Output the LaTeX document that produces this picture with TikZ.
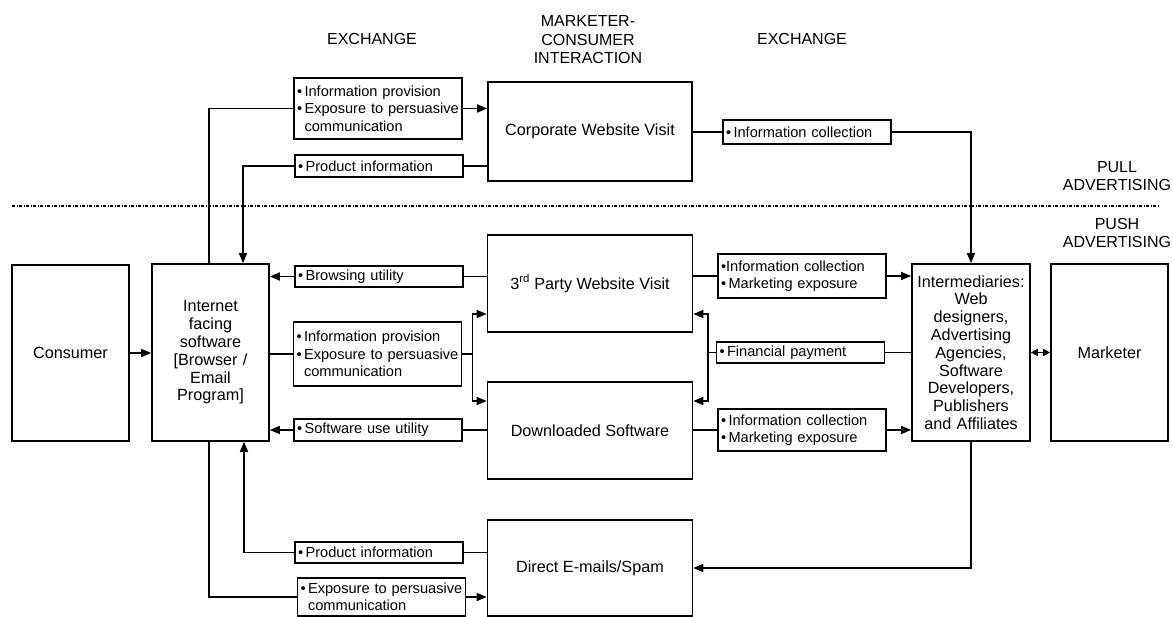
\documentclass[tikz,border=0pt]{standalone}
\usepackage{fontspec}
\setmainfont{Liberation Sans}
\usetikzlibrary{arrows.meta}
\newcommand{\bl}{\textbullet\,}
\newcommand{\blind}{\hphantom{\textbullet\,}}
\tikzset{
	unit/.style={draw, line width=1.7pt, align=center, inner sep=3pt, font=\fontsize{16.2}{17.8}\selectfont},
	xbox/.style={draw, line width=1.7pt, align=left, text width=162pt, inner xsep=3pt, inner ysep=1pt, font=\fontsize{14.6}{17.5}\selectfont},
	head/.style={align=center, font=\fontsize{16}{18.5}\selectfont},
	link/.style={line width=1.7pt},
	flow/.style={line width=1.7pt, -{Triangle[length=10pt,width=8pt]}},
	twoway/.style={line width=1.7pt, {Triangle[length=7pt,width=7pt]}-{Triangle[length=7pt,width=7pt]}},
	sep/.style={line width=1.1pt, dash pattern=on 3pt off 1.5pt on 1pt off 1.5pt}
}
\begin{document}
\begin{tikzpicture}[x=1pt, y=-1pt]
	\useasboundingbox (0,0) rectangle (1173,617);
	\node[head] (exl) at (372,39) {EXCHANGE};
	\node[head] (mci) at (588,40) {MARKETER-\\CONSUMER\\INTERACTION};
	\node[head] (exr) at (802,39) {EXCHANGE};
	\node[head] (pull) at (1117,176) {PULL\\ADVERTISING};
	\node[head] (push) at (1117,233) {PUSH\\ADVERTISING};
	\coordinate (sepw) at (12,206);
	\coordinate (sepe) at (1160,206);
	\draw[sep] (sepw) -- (sepe);

	\node[unit, minimum width=117pt, minimum height=176pt] (cons) at (70.5,353) {Consumer};
	\node[unit, text width=111pt, minimum height=177pt] (ifs) at (210.5,352.5) {Internet\\facing\\software\\{[}Browser /\\Email\\Program{]}};
	\node[unit, minimum width=204pt, minimum height=99pt] (corp) at (590,131.5) {Corporate Website Visit};
	\node[unit, minimum width=205pt, minimum height=97pt] (third) at (590,283.5) {3\textsuperscript{rd} Party Website Visit};
	\node[unit, minimum width=205pt, minimum height=97pt] (soft) at (590,430.5) {Downloaded Software};
	\node[unit, minimum width=205pt, minimum height=96pt] (mail) at (590,568) {Direct E-mails/Spam};
	\node[unit, text width=112pt, inner xsep=3pt, minimum height=177pt] (inter) at (971,352.5) {Intermediaries:\\Web\\designers,\\Advertising\\Agencies,\\Software\\Developers,\\Publishers\\and Affiliates};
	\node[unit, minimum width=117pt, minimum height=177pt] (mkt) at (1109.5,352.5) {Marketer};

	\node[xbox, minimum height=61pt] (provc) at (378,108.5) {\bl Information provision\\\bl Exposure to persuasive\\\blind communication};
	\node[xbox, minimum height=22pt] (prodc) at (379,166) {\bl Product information};
	\node[xbox, minimum height=21pt] (brow) at (379,276.5) {\bl Browsing utility};
	\node[xbox, minimum height=64pt] (provm) at (377.5,354) {\bl Information provision\\\bl Exposure to persuasive\\\blind communication};
	\node[xbox, minimum height=22pt] (use) at (378,430) {\bl Software use utility};
	\node[xbox, minimum height=21pt] (prodd) at (379,552.5) {\bl Product information};
	\node[xbox, minimum height=38pt] (expd) at (381.5,597) {\bl Exposure to persuasive\\\blind communication};
	\node[xbox, minimum height=24pt] (collc) at (807,132) {\bl Information collection};
	\node[xbox, minimum height=44pt] (colt) at (802,276) {\textbullet Information collection\\\bl Marketing exposure};
	\node[xbox, minimum height=21pt] (pay) at (800.5,352.5) {\bl Financial payment};
	\node[xbox, minimum height=42pt] (cols) at (802,430) {\bl Information collection\\\bl Marketing exposure};

	\draw[flow] (cons.east) -- (cons.east -| ifs.west);
	\draw[link] ([xshift=-1.5pt]ifs.north) |- (provc.west);
	\draw[flow] (provc.east) -- (provc.east -| corp.west);
	\draw[link] (corp.west |- prodc.east) -- (prodc.east);
	\draw[flow] (prodc.west) -| ([xshift=32.5pt]ifs.north);
	\draw[link] (third.west |- brow.east) -- (brow.east);
	\draw[flow] (brow.west) -- (brow.west -| ifs.east);
	\draw[link] (ifs.east |- provm.west) -- (provm.west);
	\draw[flow] (provm.east) -- ++(10,0) coordinate (jl) |- ([yshift=-30.5pt]third.west);
	\draw[flow] (jl) |- ([yshift=29.5pt]soft.west);
	\draw[link] (soft.west |- use.east) -- (use.east);
	\draw[flow] (use.west) -- (use.west -| ifs.east);
	\draw[link] (mail.west |- prodd.east) -- (prodd.east);
	\draw[flow] (prodd.west) -| ([xshift=33.5pt]ifs.south);
	\draw[link] ([xshift=-1.5pt]ifs.south) |- (expd.west);
	\draw[flow] (expd.east) -- (expd.east -| mail.west);

	\draw[link] (corp.east |- collc.west) -- (collc.west);
	\draw[flow] (collc.east) -| (inter.north);
	\draw[link] (third.east |- colt.west) -- (colt.west);
	\draw[flow] (colt.east) -- (colt.east -| inter.west);
	\draw[link] (inter.west |- pay.east) -- (pay.east);
	\draw[flow] (pay.west) -- ++(-8,0) coordinate (jr) |- ([yshift=-30.5pt]third.east);
	\draw[flow] (jr) |- ([yshift=29.5pt]soft.east);
	\draw[link] (soft.east |- cols.west) -- (cols.west);
	\draw[flow] (cols.east) -- (cols.east -| inter.west);
	\draw[flow] (inter.south) |- (mail.east);
	\draw[twoway] (inter.east) -- (mkt.west);
\end{tikzpicture}
\end{document}
